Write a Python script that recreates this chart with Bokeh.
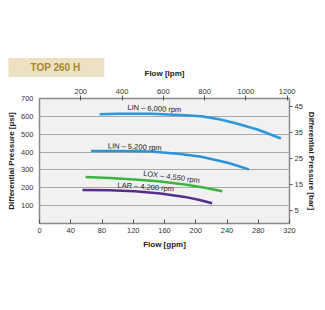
from bokeh.plotting import figure
from bokeh.models import (Range1d, LinearAxis, FixedTicker, Title, ColumnDataSource)
from bokeh.core.properties import value
from bokeh.embed import file_html
from bokeh.resources import INLINE

# ---- data ----
gpm_lin6000 = [77, 100, 143, 180, 207, 230, 250, 280, 309]
psi_lin6000 = [612, 614, 615, 608, 600, 584, 563, 525, 476]
gpm_lin5200 = [66, 100, 143, 180, 207, 241, 268]
psi_lin5200 = [406, 406, 403, 389, 374, 340, 303]
gpm_lox4550 = [59, 90, 122, 155, 186, 210, 234]
psi_lox4550 = [260, 255, 247, 235, 218, 202, 181]
gpm_lar4200 = [55, 90, 122, 155, 186, 205, 221]
psi_lar4200 = [188, 186, 181, 168, 149, 132, 113]

curve_names = ["LIN – 6,000 rpm", "LIN – 5,200 rpm", "LOX – 4,550 rpm", "LAR – 4,200 rpm"]
label_gpm = [147, 122, 169, 136]
label_psi = [644, 429, 261, 205]
label_angle = [-0.05, -0.04, -0.13, -0.07]

gpm_ticks = [0, 40, 80, 120, 160, 200, 240, 280, 320]
psi_ticks = [100, 200, 300, 400, 500, 600, 700]
lpm_ticks = [200, 400, 600, 800, 1000, 1200]
bar_ticks = [5, 15, 25, 35, 45]

GPM_MAX = 320
PSI_MAX = 700
LPM_PER_GPM = 3.78541
PSI_PER_BAR = 14.5038

FONT = "Liberation Sans"

p = figure(width=325, height=310, output_backend="svg", toolbar_location=None,
           x_range=Range1d(0, GPM_MAX), y_range=Range1d(0, PSI_MAX),
           min_border_left=39, min_border_right=36, min_border_top=98,
           min_border_bottom=87, x_axis_location=None, y_axis_location=None)
p.border_fill_color = "white"
p.background_fill_color = "#f1f1f1"
p.outline_line_color = "#8a8a8a"
p.outline_line_width = 1.5

p.extra_x_ranges = {"lpm": Range1d(0, GPM_MAX * LPM_PER_GPM)}
p.extra_y_ranges = {"bar": Range1d(0, PSI_MAX / PSI_PER_BAR)}

def style(ax, size="7.5px"):
    ax.axis_line_color = None
    ax.major_label_text_font = FONT
    ax.major_label_text_font_size = size
    ax.major_label_text_color = "#333333"
    ax.axis_label_text_font = FONT
    ax.axis_label_text_font_size = "8px"
    ax.axis_label_text_font_style = "bold"
    ax.axis_label_text_color = "#222222"
    ax.minor_tick_line_color = None
    ax.minor_tick_in = 0
    ax.minor_tick_out = 0
    ax.major_tick_line_color = "#555555"

bottom = LinearAxis(axis_label="Flow [gpm]", ticker=FixedTicker(ticks=gpm_ticks))
style(bottom)
bottom.major_tick_in = 4
bottom.major_tick_out = 0
bottom.major_label_standoff = 4
bottom.axis_label_standoff = 4
p.add_layout(bottom, "below")

top = LinearAxis(axis_label="Flow [lpm]", x_range_name="lpm", ticker=FixedTicker(ticks=lpm_ticks))
style(top)
top.major_tick_in = 2
top.major_tick_out = 3
top.major_label_standoff = 2
top.axis_label_standoff = 8
p.add_layout(top, "above")

left = LinearAxis(axis_label="Differential Pressure [psi]", ticker=FixedTicker(ticks=psi_ticks))
style(left)
left.major_tick_line_color = None
left.major_tick_in = 0
left.major_tick_out = 0
left.major_label_standoff = 6
left.axis_label_standoff = 2
p.add_layout(left, "left")

right = LinearAxis(axis_label="Differential Pressure [bar]", y_range_name="bar",
                   ticker=FixedTicker(ticks=bar_ticks))
style(right)
right.major_tick_in = 0
right.major_tick_out = 3
right.major_label_standoff = 2
right.axis_label_standoff = 1
p.add_layout(right, "right")

p.xgrid.visible = False
p.ygrid.ticker = FixedTicker(ticks=[100, 200, 300, 400, 500, 600])
p.ygrid.grid_line_color = "#a8a8a8"
p.ygrid.grid_line_width = 1

p.line(gpm_lin6000, psi_lin6000, line_color="#2a98dc", line_width=2.5)
p.line(gpm_lin5200, psi_lin5200, line_color="#2a94da", line_width=2.5)
p.line(gpm_lox4550, psi_lox4550, line_color="#3cb540", line_width=2.5)
p.line(gpm_lar4200, psi_lar4200, line_color="#5b2c8e", line_width=2.5)

src = ColumnDataSource(dict(x=label_gpm, y=label_psi, t=curve_names, a=label_angle))
p.text(x="x", y="y", text="t", angle="a", source=src, text_align="center",
       text_baseline="middle", text_font=value(FONT), text_font_size="7.5px",
       text_color="#222222")

# badge: a title placed in the top panel, pulled down beside the axis title
badge = Title(text="TOP 260 H", align="left", offset=-31, standoff=-23,
              text_font=FONT, text_font_size="10px", text_font_style="bold",
              text_color="#a8862a", background_fill_color="#e9ddb6",
              background_fill_alpha=0.85,
              padding=dict(left=22, right=24, top=4, bottom=4))
p.add_layout(badge, "above")

open("out.html", "w").write(file_html(p, INLINE))
